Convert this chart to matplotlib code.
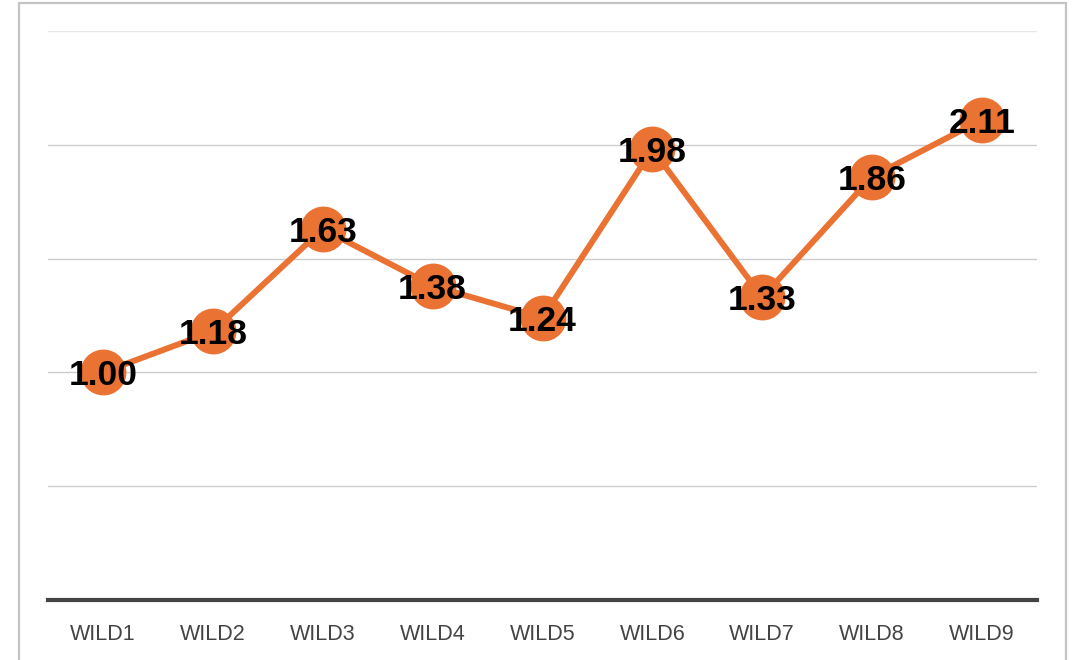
import matplotlib.pyplot as plt
from matplotlib.patches import Rectangle

categories = ["WILD1", "WILD2", "WILD3", "WILD4", "WILD5", "WILD6", "WILD7", "WILD8", "WILD9"]
values = [1.00, 1.18, 1.63, 1.38, 1.24, 1.98, 1.33, 1.86, 2.11]
gridlines = [0.5, 1.0, 1.5, 2.0, 2.5]

ORANGE = "#EA7232"

plt.rcParams["font.family"] = ["Liberation Sans", "DejaVu Sans"]

fig = plt.figure(figsize=(10.77, 6.6), dpi=100)
ax = fig.add_axes([48 / 1077, 60 / 660, 989 / 1077, 569 / 660])

x = list(range(len(categories)))
ax.plot(x, values, color=ORANGE, lw=4.3, marker="o", markersize=32,
        markerfacecolor=ORANGE, markeredgecolor=ORANGE, zorder=3, clip_on=False)
for xi, v in zip(x, values):
    ax.text(xi, v, f"{v:.2f}", ha="center", va="center_baseline", fontsize=25.5,
            fontweight="bold", color="black", zorder=4)

for g in gridlines:
    ax.axhline(g, color="#e6e6e6" if g == 2.5 else "#cccccc", lw=1, zorder=1)

ax.set_xlim(-0.5, len(categories) - 0.5)
ax.set_ylim(0, 2.5)
ax.set_yticks([])
ax.set_xticks(x)
ax.set_xticklabels(categories, fontsize=15.5, color="#444444")
ax.tick_params(axis="x", length=0, pad=17)
for s in ["top", "right", "left"]:
    ax.spines[s].set_visible(False)
ax.spines["bottom"].set_color("#444444")
ax.spines["bottom"].set_linewidth(3)

# outer frame (bottom edge runs off the canvas)
fig.patches.append(Rectangle((19 / 1077, -0.05), (1066 - 19) / 1077, 1.05 - 3 / 660,
                             transform=fig.transFigure, fill=False,
                             edgecolor="#c4c4c4", lw=1.6))

fig.savefig("out.png", dpi=100)
